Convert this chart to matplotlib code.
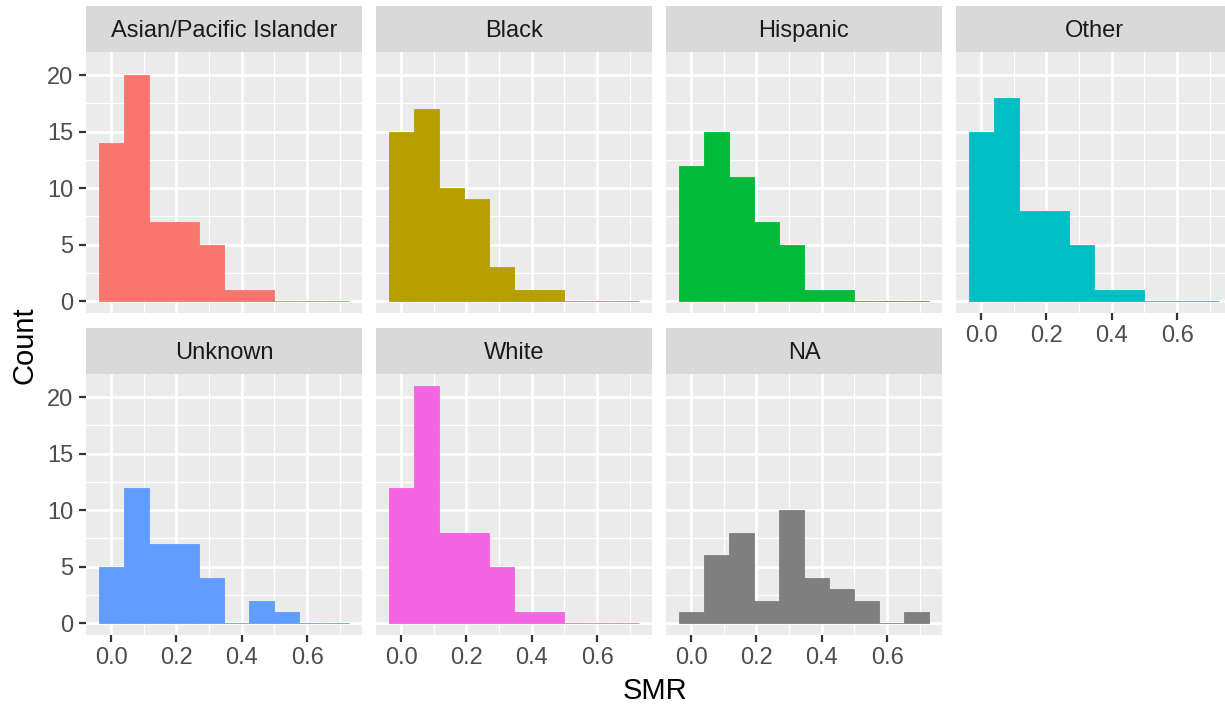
import numpy as np
import matplotlib
matplotlib.use("Agg")
import matplotlib.pyplot as plt

plt.rcParams['font.family'] = ['Liberation Sans', 'DejaVu Sans']

# histogram counts per race group, 10 bins
groups = ["Asian/Pacific Islander", "Black", "Hispanic", "Other",
          "Unknown", "White", "NA"]
counts = {
    "Asian/Pacific Islander": [14, 20, 7, 7, 5, 1, 1, 0, 0, 0],
    "Black":                  [15, 17, 10, 9, 3, 1, 1, 0, 0, 0],
    "Hispanic":               [12, 15, 11, 7, 5, 1, 1, 0, 0, 0],
    "Other":                  [15, 18, 8, 8, 5, 1, 1, 0, 0, 0],
    "Unknown":                [5, 12, 7, 7, 4, 0, 2, 1, 0, 0],
    "White":                  [12, 21, 8, 8, 5, 1, 1, 0, 0, 0],
    "NA":                     [1, 6, 8, 2, 10, 4, 3, 2, 0, 1],
}
colors = ["#F8766D", "#B79F00", "#00BA38", "#00BFC4", "#619CFF", "#F564E3", "#7F7F7F"]
bin_lo, bin_hi, n_bins = -0.0385, 0.7295, 10
edges = np.linspace(bin_lo, bin_hi, n_bins + 1)
bw = edges[1] - edges[0]

x_major = [0.0, 0.2, 0.4, 0.6]
x_minor = [0.1, 0.3, 0.5, 0.7]
y_major = [0, 5, 10, 15, 20]
y_minor = [2.5, 7.5, 12.5, 17.5]

W, H = 1225, 704
fig = plt.figure(figsize=(W / 100, H / 100), dpi=100)

def px_axes(x0, y0, w, h):
    return fig.add_axes([x0 / W, 1 - (y0 + h) / H, w / W, h / H])

span = bin_hi - bin_lo
xlim = (bin_lo - 0.05 * span, bin_hi + 0.05 * span)
ymax = max(max(v) for v in counts.values())
ylim = (-0.05 * ymax, ymax * 1.05)

col_x = [86, 376, 666, 956]
pw = 276
strip_h = 46
row_strip_top = [6, 328]
ph = 261

for i, g in enumerate(groups):
    r, c = divmod(i, 4)
    x0 = col_x[c]
    st = row_strip_top[r]
    # strip
    sax = px_axes(x0, st, pw, strip_h)
    sax.set_facecolor("#D9D9D9")
    sax.set_xticks([]); sax.set_yticks([])
    for s in sax.spines.values():
        s.set_visible(False)
    sax.text(0.5, 0.45, g, ha="center", va="center", fontsize=17,
             color="#1A1A1A", transform=sax.transAxes)

    ax = px_axes(x0, st + strip_h, pw, ph)
    ax.set_facecolor("#EBEBEB")
    for s in ax.spines.values():
        s.set_visible(False)
    ax.set_xlim(xlim); ax.set_ylim(ylim)
    for xv in x_minor:
        ax.axvline(xv, color="white", lw=0.9, zorder=0)
    for yv in y_minor:
        ax.axhline(yv, color="white", lw=0.9, zorder=0)
    for xv in x_major:
        ax.axvline(xv, color="white", lw=1.9, zorder=0)
    for yv in y_major:
        ax.axhline(yv, color="white", lw=1.9, zorder=0)
    ax.bar(edges[:-1], counts[g], width=bw, align="edge", color=colors[i],
           edgecolor=colors[i], linewidth=0.6, zorder=2)

    ax.set_xticks(x_major)
    ax.set_yticks(y_major)
    ax.tick_params(axis="both", colors="#333333", labelcolor="#4D4D4D",
                   labelsize=17, length=5, width=1.6, pad=4)
    show_x = (r == 1) or (c == 3)
    if show_x:
        ax.set_xticklabels(["0.0", "0.2", "0.4", "0.6"])
    else:
        ax.tick_params(axis="x", length=0, labelbottom=False)
    if c == 0:
        ax.set_yticklabels([str(v) for v in y_major])
    else:
        ax.tick_params(axis="y", length=0, labelleft=False)

fig.text(655 / W, 1 - 691 / H, "SMR", ha="center", va="center", fontsize=21,
         color="black")
fig.text(25 / W, 1 - 345 / H, "Count", ha="center", va="center", fontsize=21,
         rotation=90, color="black")

fig.savefig("out.png", dpi=100)
